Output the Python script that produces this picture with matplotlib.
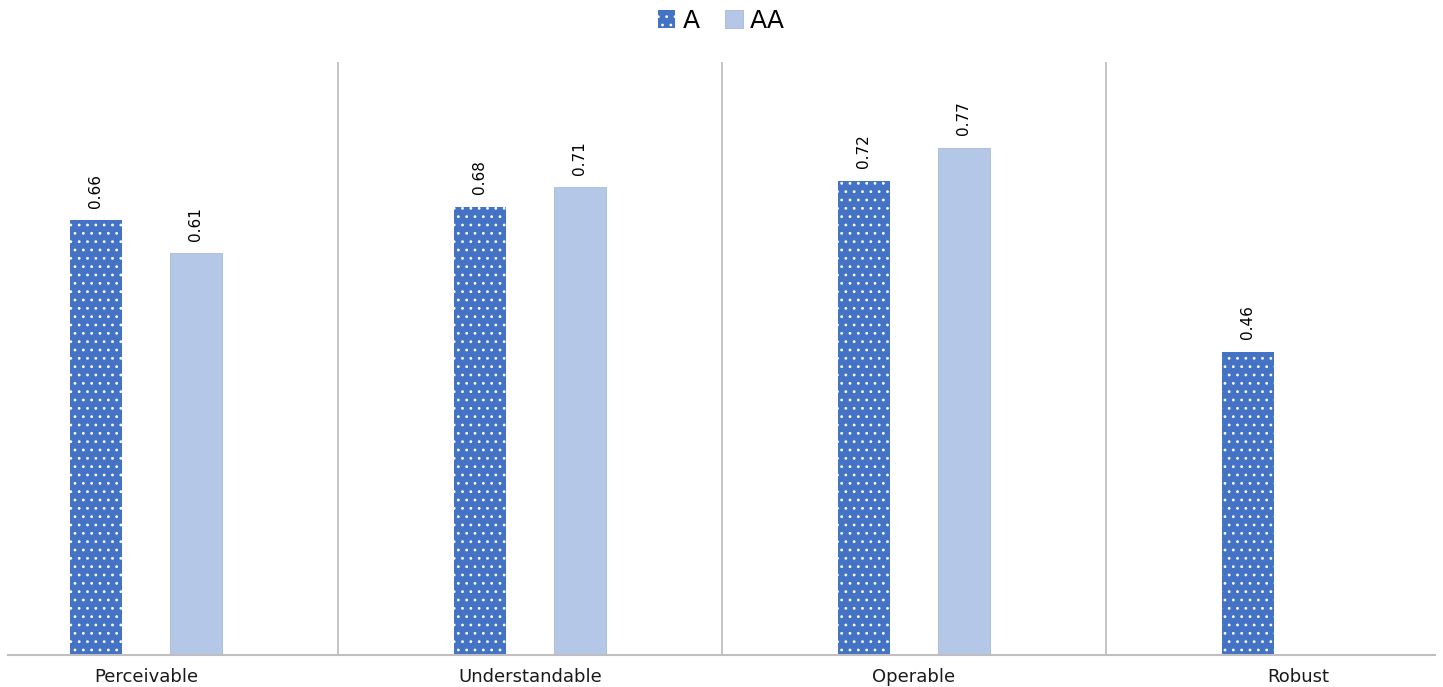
import numpy as np
import matplotlib
matplotlib.use("Agg")
import matplotlib.pyplot as plt

categories = ["Perceivable", "Understandable", "Operable", "Robust"]
series_names = ["A", "AA"]
values_a = [0.66, 0.68, 0.72, 0.46]
values_aa = [0.61, 0.71, 0.77, None]

plt.rcParams['font.family'] = ['DejaVu Sans']
plt.rcParams['hatch.linewidth'] = 0.8

fig = plt.figure(figsize=(14.43, 6.87), dpi=100)
ax = fig.add_axes([8/1443, 32/687, 1427/1443, 593/687])

x = np.arange(len(categories))
w = 0.135
off = 0.13

a_color = '#4472C4'
aa_color = '#B4C7E7'

ax.bar(x - off, values_a, w, color=a_color, edgecolor='white', linewidth=0,
       hatch='..', label=series_names[0])
aa_x = [xi + off for xi, v in zip(x, values_aa) if v is not None]
aa_v = [v for v in values_aa if v is not None]
ax.bar(aa_x, aa_v, w, color=aa_color, edgecolor='#A9B9D6', linewidth=0.6,
       label=series_names[1])

for xi, v in zip(x - off, values_a):
    ax.annotate(f'{v:.2f}', (xi, v), xytext=(0, 9), textcoords='offset points',
                rotation=90, ha='center', va='bottom', fontsize=11)
for xi, v in zip(aa_x, aa_v):
    ax.annotate(f'{v:.2f}', (xi, v), xytext=(0, 9), textcoords='offset points',
                rotation=90, ha='center', va='bottom', fontsize=11)

for s in [0.5, 1.5, 2.5]:
    ax.axvline(s, color='#BFBFBF', linewidth=1.3)

ax.set_xlim(-0.359, 3.357)
ax.set_ylim(0, 0.9)
ax.set_yticks([])
ax.set_xticks(x)
ax.set_xticklabels(categories, fontsize=13, color='#1a1a1a')
ax.tick_params(axis='x', length=0, pad=9)
for sp in ['top', 'left', 'right']:
    ax.spines[sp].set_visible(False)
ax.spines['bottom'].set_color('#BFBFBF')
ax.spines['bottom'].set_linewidth(1.5)

fig.legend(loc='upper center', bbox_to_anchor=(0.5, 1.02), ncol=2, frameon=False,
           fontsize=18, handlelength=0.7, handleheight=0.7, handletextpad=0.3,
           columnspacing=1.0)

fig.savefig('out.png', dpi=100)
